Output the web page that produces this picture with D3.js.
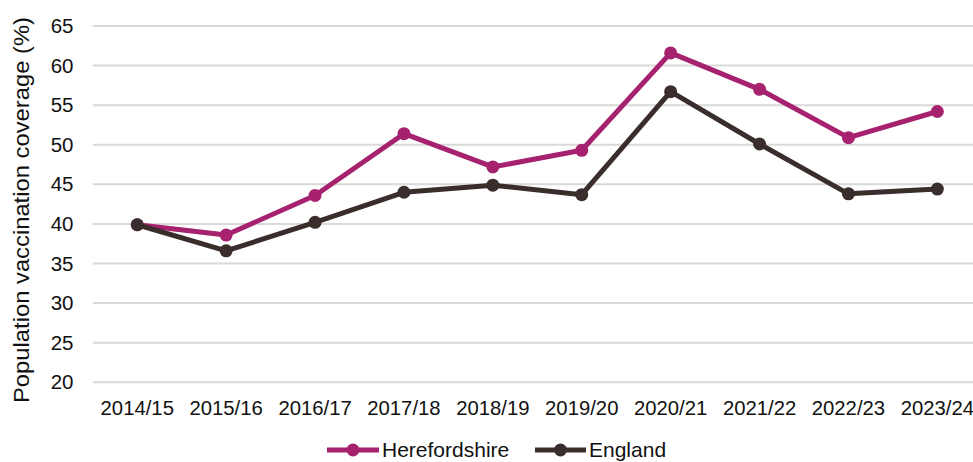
<!DOCTYPE html>
<html>
<head>
<meta charset="utf-8">
<script src="https://cdn.jsdelivr.net/npm/d3@7"></script>
<style>
  html, body { margin: 0; padding: 0; background: #fff; }
  svg { display: block; font-family: "Liberation Sans", Arial, sans-serif; }
</style>
</head>
<body>
<svg id="chart" width="973" height="462"></svg>
<script>
// Population vaccination coverage (%) by season
const seasons = ["2014/15", "2015/16", "2016/17", "2017/18", "2018/19",
                 "2019/20", "2020/21", "2021/22", "2022/23", "2023/24"];
const herefordshire = [39.9, 38.6, 43.6, 51.4, 47.2, 49.3, 61.6, 57.0, 50.9, 54.2];
const england       = [39.9, 36.6, 40.2, 44.0, 44.9, 43.7, 56.7, 50.1, 43.8, 44.4];
const yTicks = [20, 25, 30, 35, 40, 45, 50, 55, 60, 65];

const seriesList = [
  { name: "Herefordshire", values: herefordshire, color: "#A6226F" },
  { name: "England",       values: england,       color: "#3A2E2D" }
];

const svg = d3.select("#chart");
const plotLeft = 92.8, plotTop = 26, plotBottom = 382.3;

const x = d3.scalePoint().domain(seasons).range([plotLeft, plotLeft + 889]).padding(0.5);
const y = d3.scaleLinear().domain([20, 65]).range([plotBottom, plotTop]);

// horizontal gridlines
svg.append("g")
  .selectAll("line")
  .data(yTicks)
  .join("line")
  .attr("x1", plotLeft).attr("x2", 973)
  .attr("y1", d => y(d)).attr("y2", d => y(d))
  .attr("stroke", "#D9D9D9").attr("stroke-width", 2);

// y tick labels
svg.append("g")
  .selectAll("text")
  .data(yTicks)
  .join("text")
  .attr("x", 73.5).attr("y", d => y(d))
  .attr("dy", "0.34em")
  .attr("text-anchor", "end")
  .attr("font-size", 20.5)
  .attr("fill", "#111")
  .text(d => d);

// x tick labels
svg.append("g")
  .selectAll("text")
  .data(seasons)
  .join("text")
  .attr("x", d => x(d)).attr("y", 414.5)
  .attr("text-anchor", "middle")
  .attr("font-size", 20.3)
  .attr("fill", "#111")
  .text(d => d);

// y axis title
svg.append("text")
  .attr("transform", "translate(29,210) rotate(-90)")
  .attr("text-anchor", "middle")
  .attr("font-size", 22.5)
  .attr("textLength", 386)
  .attr("lengthAdjust", "spacingAndGlyphs")
  .attr("fill", "#111")
  .text("Population vaccination coverage (%)");

// series lines and markers
const line = d3.line().x((d, i) => x(seasons[i])).y(d => y(d));
seriesList.forEach(s => {
  const g = svg.append("g");
  g.append("path")
    .attr("d", line(s.values))
    .attr("fill", "none")
    .attr("stroke", s.color)
    .attr("stroke-width", 5)
    .attr("stroke-linejoin", "round");
  g.selectAll("circle")
    .data(s.values)
    .join("circle")
    .attr("cx", (d, i) => x(seasons[i]))
    .attr("cy", d => y(d))
    .attr("r", 6.5)
    .attr("fill", s.color);
});

// legend
const legendItems = [
  { s: seriesList[0], x0: 327, x1: 379, tx: 382 },
  { s: seriesList[1], x0: 535, x1: 586, tx: 589 }
];
const ly = 450;
legendItems.forEach(item => {
  const g = svg.append("g");
  g.append("line")
    .attr("x1", item.x0).attr("x2", item.x1)
    .attr("y1", ly).attr("y2", ly)
    .attr("stroke", item.s.color).attr("stroke-width", 5);
  g.append("circle")
    .attr("cx", (item.x0 + item.x1) / 2).attr("cy", ly)
    .attr("r", 6.5).attr("fill", item.s.color);
  g.append("text")
    .attr("x", item.tx).attr("y", ly)
    .attr("dy", "0.33em")
    .attr("font-size", 21)
    .attr("fill", "#111")
    .text(item.s.name);
});
</script>
</body>
</html>
